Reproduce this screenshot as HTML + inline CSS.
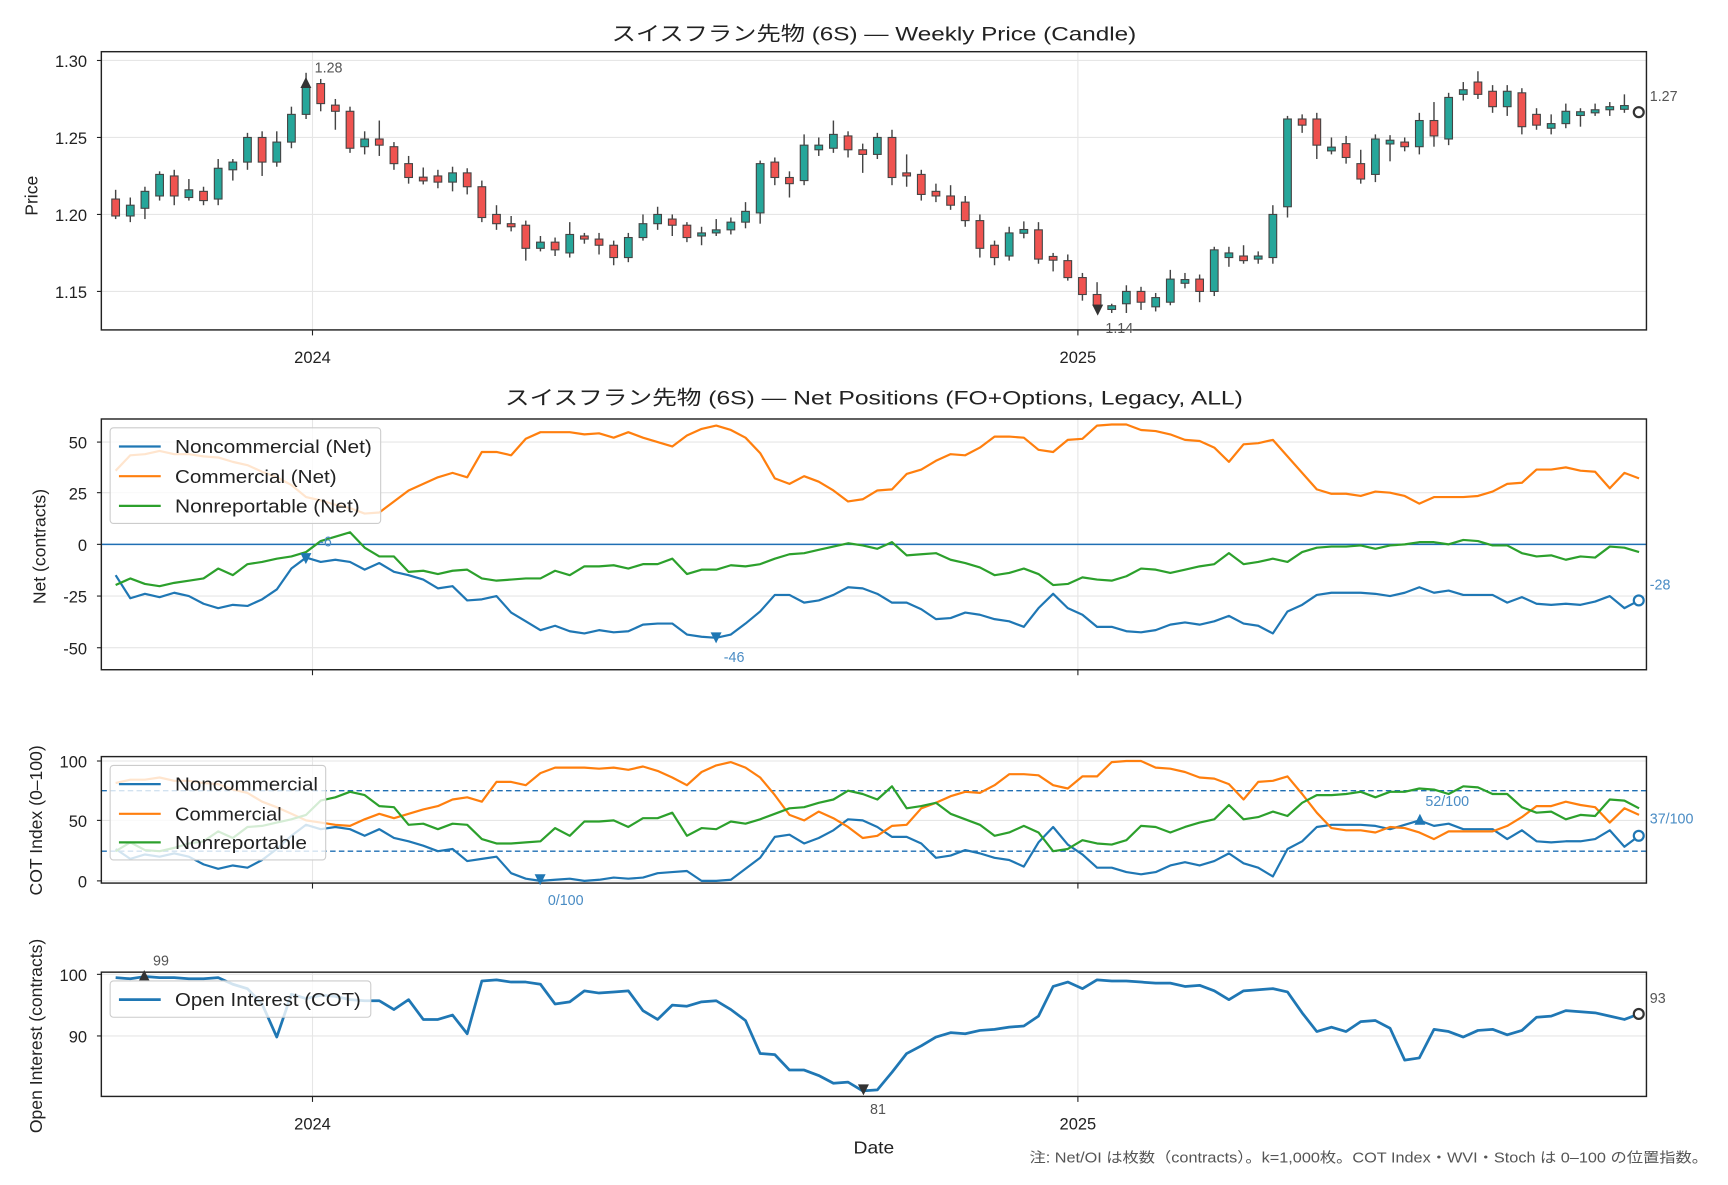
<!DOCTYPE html>
<html><head><meta charset="utf-8"><style>
html,body{margin:0;padding:0;background:#fff}
svg text{font-family:"Liberation Sans","Noto Sans CJK JP",sans-serif;fill:#222}
</style></head><body>
<svg id="s" width="1728" height="1180" viewBox="0 0 1571 1073" xmlns="http://www.w3.org/2000/svg">
<rect width="1571" height="1073" fill="#fff"/>
<g stroke="#e6e6e6" stroke-width="1">
<line x1="92" x2="1497" y1="55" y2="55"/><line x1="92" x2="1497" y1="125" y2="125"/><line x1="92" x2="1497" y1="195" y2="195"/><line x1="92" x2="1497" y1="265" y2="265"/>
<line x1="284" x2="284" y1="47" y2="300"/><line x1="980" x2="980" y1="47" y2="300"/>
<line x1="92" x2="1497" y1="402" y2="402"/><line x1="92" x2="1497" y1="448" y2="448"/><line x1="92" x2="1497" y1="542" y2="542"/><line x1="92" x2="1497" y1="589" y2="589"/>
<line x1="284" x2="284" y1="381" y2="609"/><line x1="980" x2="980" y1="381" y2="609"/>
<line x1="92" x2="1497" y1="692" y2="692"/><line x1="92" x2="1497" y1="746" y2="746"/><line x1="92" x2="1497" y1="801" y2="801"/>
<line x1="284" x2="284" y1="688" y2="803"/><line x1="980" x2="980" y1="688" y2="803"/>
<line x1="92" x2="1497" y1="886" y2="886"/><line x1="92" x2="1497" y1="942" y2="942"/>
<line x1="284" x2="284" y1="884" y2="997"/><line x1="980" x2="980" y1="884" y2="997"/>
</g>
<line x1="92" x2="1497" y1="495" y2="495" stroke="#1f6fb4" stroke-width="1.3"/>
<line x1="92" x2="1497" y1="719" y2="719" stroke="#1f6fb4" stroke-width="1.2" stroke-dasharray="5,3"/>
<line x1="92" x2="1497" y1="774" y2="774" stroke="#1f6fb4" stroke-width="1.2" stroke-dasharray="5,3"/>
<g id="cd"></g><g id="ln"></g>
<g fill="none" stroke="#222" stroke-width="1.3">
<rect x="92" y="47" width="1405" height="253"/><rect x="92" y="381" width="1405" height="228"/>
<rect x="92" y="688" width="1405" height="115"/><rect x="92" y="884" width="1405" height="113"/>
</g>
<g stroke="#222" stroke-width="1">
<line x1="88" x2="92" y1="55" y2="55"/><line x1="88" x2="92" y1="125" y2="125"/><line x1="88" x2="92" y1="195" y2="195"/><line x1="88" x2="92" y1="265" y2="265"/>
<line x1="284" x2="284" y1="300" y2="305"/><line x1="980" x2="980" y1="300" y2="305"/>
<line x1="88" x2="92" y1="402" y2="402"/><line x1="88" x2="92" y1="448" y2="448"/><line x1="88" x2="92" y1="495" y2="495"/><line x1="88" x2="92" y1="542" y2="542"/><line x1="88" x2="92" y1="589" y2="589"/>
<line x1="284" x2="284" y1="609" y2="614"/><line x1="980" x2="980" y1="609" y2="614"/>
<line x1="88" x2="92" y1="692" y2="692"/><line x1="88" x2="92" y1="746" y2="746"/><line x1="88" x2="92" y1="801" y2="801"/>
<line x1="284" x2="284" y1="803" y2="808"/><line x1="980" x2="980" y1="803" y2="808"/>
<line x1="88" x2="92" y1="886" y2="886"/><line x1="88" x2="92" y1="942" y2="942"/>
<line x1="284" x2="284" y1="997" y2="1002"/><line x1="980" x2="980" y1="997" y2="1002"/>
</g>
<g font-size="18">
<text x="556" y="37" textLength="477" lengthAdjust="spacingAndGlyphs">スイスフラン先物 (6S) — Weekly Price (Candle)</text>
<text x="459" y="368" textLength="671" lengthAdjust="spacingAndGlyphs">スイスフラン先物 (6S) — Net Positions (FO+Options, Legacy, ALL)</text>
<text x="776" y="1049" font-size="16" textLength="37" lengthAdjust="spacingAndGlyphs">Date</text>
</g>
<g font-size="15" text-anchor="end">
<text x="79" y="61">1.30</text><text x="79" y="131">1.25</text><text x="79" y="201">1.20</text><text x="79" y="271">1.15</text>
<text x="79" y="408">50</text><text x="79" y="454">25</text><text x="79" y="501">0</text><text x="79" y="548">-25</text><text x="79" y="595">-50</text>
<text x="79" y="698">100</text><text x="79" y="752">50</text><text x="79" y="807">0</text>
<text x="79" y="892">100</text><text x="79" y="948">90</text>
</g>
<g font-size="15" text-anchor="middle">
<text x="284" y="330">2024</text><text x="980" y="330">2025</text>
<text x="284" y="1027">2024</text><text x="980" y="1027">2025</text>
</g>
<g font-size="16" text-anchor="middle">
<text transform="translate(34,178) rotate(-90)">Price</text>
<text transform="translate(41,497) rotate(-90)">Net (contracts)</text>
<text transform="translate(38,746) rotate(-90)">COT Index (0–100)</text>
<text transform="translate(38,942) rotate(-90)">Open Interest (contracts)</text>
</g>
<g font-size="13">
<text x="286" y="66" style="fill:#555">1.28</text>
<text x="1005" y="303" style="fill:#555">1.14</text>
<text x="1500" y="92" style="fill:#555">1.27</text>
<text x="290" y="497" style="fill:#4a8cc4">-6</text>
<text x="658" y="602" style="fill:#4a8cc4">-46</text>
<text x="1500" y="536" style="fill:#4a8cc4">-28</text>
<text x="498" y="823" style="fill:#4a8cc4">0/100</text>
<text x="1296" y="733" style="fill:#4a8cc4">52/100</text>
<text x="1500" y="749" style="fill:#4a8cc4">37/100</text>
<text x="139" y="878" style="fill:#555">99</text>
<text x="791" y="1013" style="fill:#555">81</text>
<text x="1500" y="912" style="fill:#555">93</text>
<text x="936" y="1057" textLength="617" lengthAdjust="spacingAndGlyphs" style="fill:#555">注: Net/OI は枚数（contracts）。k=1,000枚。COT Index・WVI・Stoch は 0–100 の位置指数。</text>
</g>
<g id="mk"></g>
<g font-size="17">
<rect x="100" y="389" width="246" height="87" rx="3" fill="#fff" fill-opacity="0.8" stroke="#ccc"/>
<line x1="108" x2="146" y1="406" y2="406" stroke="#1f77b4" stroke-width="2"/>
<line x1="108" x2="146" y1="433" y2="433" stroke="#ff7f0e" stroke-width="2"/>
<line x1="108" x2="146" y1="460" y2="460" stroke="#2ca02c" stroke-width="2"/>
<text x="159" y="412" textLength="179" lengthAdjust="spacingAndGlyphs">Noncommercial (Net)</text>
<text x="159" y="439" textLength="147" lengthAdjust="spacingAndGlyphs">Commercial (Net)</text>
<text x="159" y="466" textLength="168" lengthAdjust="spacingAndGlyphs">Nonreportable (Net)</text>
<rect x="100" y="696" width="196" height="86" rx="3" fill="#fff" fill-opacity="0.8" stroke="#ccc"/>
<line x1="108" x2="146" y1="713" y2="713" stroke="#1f77b4" stroke-width="2"/>
<line x1="108" x2="146" y1="740" y2="740" stroke="#ff7f0e" stroke-width="2"/>
<line x1="108" x2="146" y1="766" y2="766" stroke="#2ca02c" stroke-width="2"/>
<text x="159" y="719" textLength="130" lengthAdjust="spacingAndGlyphs">Noncommercial</text>
<text x="159" y="746" textLength="97" lengthAdjust="spacingAndGlyphs">Commercial</text>
<text x="159" y="772" textLength="120" lengthAdjust="spacingAndGlyphs">Nonreportable</text>
<rect x="100" y="892" width="237" height="33" rx="3" fill="#fff" fill-opacity="0.8" stroke="#ccc"/>
<line x1="108" x2="146" y1="909" y2="909" stroke="#1f77b4" stroke-width="2.5"/>
<text x="159" y="915" textLength="169" lengthAdjust="spacingAndGlyphs">Open Interest (COT)</text>
</g>
</svg>
<script>
(function(){
var NS="http://www.w3.org/2000/svg";
function el(t,a,p){var e=document.createElementNS(NS,t);for(var k in a)e.setAttribute(k,a[k]);p.appendChild(e);return e;}
var X=function(i){return 105+13.32*i;};
var C=[[1.21,1.199],[1.199,1.206],[1.204,1.215],[1.212,1.226],[1.225,1.212],[1.211,1.216],[1.215,1.209],[1.21,1.23],[1.229,1.234],[1.234,1.25],[1.25,1.234],[1.234,1.247],[1.247,1.265],[1.265,1.283],[1.285,1.272],[1.271,1.267],[1.267,1.243],[1.244,1.249],[1.249,1.245],[1.244,1.233],[1.233,1.224],[1.2235,1.2225],[1.225,1.221],[1.221,1.227],[1.227,1.218],[1.218,1.198],[1.2,1.194],[1.194,1.192],[1.193,1.178],[1.178,1.182],[1.182,1.177],[1.175,1.187],[1.186,1.184],[1.184,1.18],[1.18,1.172],[1.172,1.185],
[1.185,1.194],[1.194,1.2],[1.197,1.193],[1.193,1.185],[1.186,1.188],[1.188,1.19],[1.19,1.195],[1.195,1.202],[1.201,1.233],[1.234,1.224],[1.224,1.22],[1.222,1.245],[1.242,1.245],[1.243,1.252],[1.251,1.242],[1.242,1.239],[1.239,1.25],[1.25,1.224],[1.227,1.225],[1.226,1.213],[1.215,1.212],[1.212,1.206],[1.208,1.196],[1.196,1.178],[1.18,1.172],[1.173,1.188],[1.1885,1.1895],[1.19,1.171],[1.172,1.171],[1.17,1.159],[1.159,1.148],[1.148,1.141],[1.139,1.14],[1.142,1.15],[1.15,1.143],[1.14,1.146],[1.143,1.158],[1.156,1.157],[1.158,1.15],[1.15,1.177],[1.172,1.175],[1.173,1.17],[1.171,1.173],[1.172,1.2],[1.205,1.262],[1.262,1.258],[1.262,1.245],[1.242,1.243],[1.246,1.237],[1.233,1.223],[1.226,1.249],[1.2465,1.2475],[1.247,1.244],[1.244,1.261],[1.261,1.251],[1.249,1.276],[1.278,1.281],[1.286,1.278],[1.28,1.27],[1.27,1.28],[1.279,1.257],[1.265,1.258],[1.256,1.259],[1.259,1.267],[1.265,1.266],[1.266,1.268],[1.268,1.27],[1.269,1.27],[1.268,1.266]];
var P=function(p){return 55+(1.30-p)*1400;};
var cd=document.getElementById('cd');
var ext=[6,5,3,2,4,7,3,6,2,3,4,7,5,9,3,4,3,5,12,3,5,7,4,4,3,4,6,5,3,4,3,8,2,4,3,3];
C.forEach(function(c,i){var x=X(i),o=c[0],cl=c[1],hi=Math.max(o,cl)+0.001*(ext[i%ext.length]),lo=Math.min(o,cl)-0.001*(ext[(i+3)%ext.length]);
el('line',{x1:x,x2:x,y1:P(hi),y2:P(lo),stroke:'#444','stroke-width':1.3},cd);
var t=P(Math.max(o,cl)),b=P(Math.min(o,cl));if(b-t<2){t-=1;b+=1;}
el('rect',{x:x-3.5,y:t,width:7,height:b-t,fill:cl>=o?'#26a69a':'#ef5350',stroke:'#444','stroke-width':1},cd);});
var ln=document.getElementById('ln');
function L(a,col,w){el('polyline',{points:a.map(function(y,i){return X(i)+','+y;}).join(' '),fill:'none',stroke:col,'stroke-width':w,'stroke-linejoin':'round'},ln);}
L([523,544,540,543,539,542,549,553,550,551,545,536,517,507,511,509,511,518,512,520,523,527,535,533,546,545,542,557,565,573,569,574,576,573,575,574,568,567,567,577,579,580,577,567,556,541,541,548,546,541,534,535,540,548,548,554,563,562,557,559,563,565,570,553,540,553,559,570,570,574,575,573,568,566,568,565,560,567,569,576,556,550,541,539,539,539,540,542,539,534,539,537,541,541,541,548,543,549,550,549,550,547,542,553,546],'#1f77b4',2);
L([428,414,413,410,413,413,415,416,420,423,429,434,441,452,455,459,462,467,466,456,446,440,434,430,434,411,411,414,399,393,393,393,395,394,398,393,398,402,406,396,390,387,391,398,412,435,440,433,438,446,456,454,446,445,431,427,419,413,414,407,397,397,398,409,411,400,399,387,386,386,391,392,395,400,401,407,420,404,403,400,415,430,445,449,449,451,447,448,451,458,452,452,452,451,447,440,439,427,427,425,428,429,444,430,435],'#ff7f0e',2);
L([532,526,531,533,530,528,526,517,523,513,511,508,506,502,492,488,484,498,506,506,520,519,522,519,518,526,528,527,526,526,519,523,515,515,514,517,513,513,508,522,518,518,514,515,513,508,504,503,500,497,494,496,499,493,505,504,503,509,512,516,523,521,517,522,532,531,525,527,528,524,517,518,521,518,515,513,503,513,511,508,511,502,498,497,497,496,499,496,495,493,493,495,491,492,496,496,503,506,505,509,506,507,497,498,502],'#2ca02c',2);
L([772,781,777,779,776,779,786,790,787,789,782,772,760,750,754,752,754,760,754,762,765,769,774,772,783,781,779,794,799,801,800,799,801,800,798,799,798,794,793,792,801,801,800,790,780,761,759,767,762,755,745,746,752,761,761,767,780,778,773,776,780,782,788,766,752,768,777,789,789,793,795,793,787,784,787,783,776,785,789,797,772,765,752,750,750,750,751,754,750,746,751,749,754,754,754,763,755,765,766,765,765,763,755,770,760],'#1f77b4',2);
L([712,709,709,707,710,710,712,713,718,721,729,734,740,746,748,750,751,745,740,744,740,736,733,727,725,729,711,711,714,703,698,698,698,699,698,700,697,701,707,714,702,696,693,698,707,723,741,746,738,744,752,762,760,751,750,735,730,724,720,721,714,704,704,705,714,717,706,706,693,692,692,698,699,702,707,708,713,727,711,710,706,722,739,753,755,755,757,752,753,757,763,756,756,756,756,751,743,733,733,729,732,734,748,735,741],'#ff7f0e',2);
L([774,766,773,774,771,767,765,756,762,752,751,748,745,741,728,725,720,723,733,734,750,749,754,749,750,763,767,767,766,765,753,760,747,747,746,752,744,744,739,760,753,754,747,749,745,740,735,734,730,727,719,722,727,715,735,733,730,740,745,750,760,757,751,757,774,772,764,767,768,764,751,752,757,752,748,745,732,745,743,738,742,730,723,723,722,720,725,720,720,717,718,722,715,716,722,722,734,739,738,745,741,742,727,728,735],'#2ca02c',2);
L([889,890,888,889,889,890,890,889,895,899,913,943,904,908,905,906,909,910,910,918,909,927,927,923,940,892,891,893,893,895,913,911,901,903,902,901,919,927,914,915,911,910,918,928,958,959,973,973,978,985,984,992,991,975,958,951,943,939,940,937,936,934,933,924,897,893,899,891,892,892,893,894,894,897,896,901,909,901,900,899,902,921,938,934,938,929,928,935,964,962,936,938,943,937,936,941,937,925,924,919,920,921,924,927,922],'#1f77b4',2.5);
var mk=document.getElementById('mk');
function tri(x,y,up,col){el('polygon',{points:up?(x-5)+','+(y+5)+' '+(x+5)+','+(y+5)+' '+x+','+(y-5):(x-5)+','+(y-5)+' '+(x+5)+','+(y-5)+' '+x+','+(y+5),fill:col},mk);}
function circ(x,y,col){el('circle',{cx:x,cy:y,r:4.5,fill:'#fff',stroke:col,'stroke-width':2},mk);}
tri(278,75,true,'#333');tri(998,282,false,'#333');circ(1490,102,'#333');
tri(278,508,false,'#1f77b4');tri(651,580,false,'#1f77b4');circ(1490,546,'#1f77b4');
tri(491,800,false,'#1f77b4');tri(1291,745,true,'#1f77b4');circ(1490,760,'#1f77b4');
tri(131,887,true,'#333');tri(785,991,false,'#333');circ(1490,922,'#333');
})();
</script>
</body></html>
